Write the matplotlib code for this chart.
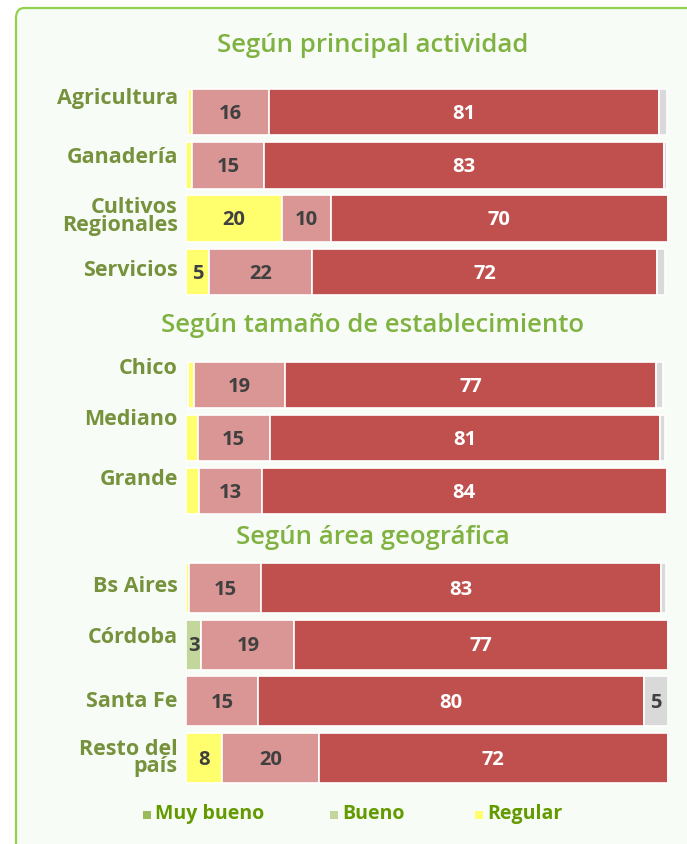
import matplotlib
matplotlib.use("Agg")
import matplotlib.pyplot as plt
from matplotlib.patches import FancyBboxPatch, Rectangle
import numpy as np

# ---------------- data ----------------
series = ["Muy bueno", "Bueno", "Regular", "Malo", "Muy malo", "Ns/Nc"]
colors = ["#9bbb59", "#c3d69b", "#ffff6e", "#da9694", "#c0504d", "#d9d9d9"]

g1_title = "Según principal actividad"
g1_cats = ["Agricultura", "Ganadería", "Cultivos\nRegionales", "Servicios"]
g1_vals = [
    [0, 0.5, 0.7, 16, 81, 1.5],
    [0, 0, 1.2, 15, 83, 0.6],
    [0, 0, 20, 10, 70, 0],
    [0, 0, 4.7, 21.5, 71.5, 1.6],
]

g2_title = "Según tamaño de establecimiento"
g2_cats = ["Chico", "Mediano", "Grande"]
g2_vals = [
    [0, 0.4, 1.2, 19, 77, 1.4],
    [0, 0, 2.4, 15, 81, 1.0],
    [0, 0, 2.7, 13, 84, 0],
]

g3_title = "Según área geográfica"
g3_cats = ["Bs Aires", "Córdoba", "Santa Fe", "Resto del\npaís"]
g3_vals = [
    [0, 0, 0.6, 15, 83, 1.0],
    [0, 3.2, 0, 19.3, 77.4, 0],
    [0, 0, 0, 15, 80, 5],
    [0, 0, 7.5, 20, 72.5, 0],
]

legend_items = ["Muy bueno", "Bueno", "Regular"]

# label vertical nudges (fraction of a row, upward)
g1_nudge = [0.26, 0.15, 0.04, 0.02]
g2_nudge = [0.32, 0.34, 0.21]
g3_nudge = [0.02, 0.12, 0.0, 0.0]

# ---------------- layout ----------------
W, H = 687, 844
fig = plt.figure(figsize=(W / 100, H / 100), dpi=100)
fig.patch.set_facecolor("white")

panel = FancyBboxPatch((16 / W, -0.05), 1.2, 1 - 8 / H + 0.05,
                       boxstyle="round,pad=0,rounding_size=0.012",
                       transform=fig.transFigure, facecolor="#f8fcf6",
                       edgecolor="#92d050", linewidth=1.6, zorder=-5)
fig.patches.append(panel)

x0_px, x1_px = 186, 668
label_color = "#76923c"
title_color = "#7fb241"
num_dark = "#404040"


def fy(px):
    return 1 - px / H


def draw_group(top_px, bottom_px, cats, vals, nudge):
    ax = fig.add_axes([x0_px / W, fy(bottom_px), (x1_px - x0_px) / W,
                       (bottom_px - top_px) / H])
    ax.set_facecolor("none")
    ax.set_zorder(2)
    n = len(cats)
    ax.set_xlim(0, 100)
    ax.set_ylim(n - 0.5, -0.5)
    ax.axis("off")
    arr = np.array(vals, dtype=float)
    y = np.arange(n)
    left = np.zeros(n)
    for j, s in enumerate(series):
        w = arr[:, j]
        ax.barh(y, w, left=left, height=0.88, color=colors[j],
                edgecolor="white", linewidth=1.2)
        for i in range(n):
            if w[i] >= 3:
                ax.text(left[i] + w[i] / 2, y[i] + 0.03, f"{w[i]:.0f}",
                        ha="center", va="center", fontsize=14.5,
                        fontweight="bold", family="Open Sans",
                        color="white" if s == "Muy malo" else num_dark)
        left += w
    for i, c in enumerate(cats):
        ax.text(-1.7, y[i] - nudge[i], c, ha="right", va="center",
                fontsize=15.5, fontweight="bold", family="Open Sans",
                color=label_color, linespacing=0.8, clip_on=False)
    return ax


def title(text, y_px):
    fig.text(373 / W, fy(y_px), text, ha="center", va="center",
             fontsize=18.5, family="Open Sans", fontweight="semibold",
             color=title_color)


title(g1_title, 46)
draw_group(85.3, 298.7, g1_cats, g1_vals, g1_nudge)
title(g2_title, 325)
draw_group(358.5, 517.5, g2_cats, g2_vals, g2_nudge)
title(g3_title, 538)
draw_group(559.7, 786.3, g3_cats, g3_vals, g3_nudge)

# legend
leg_x = [143, 330, 475]
for k, name in enumerate(legend_items):
    j = series.index(name)
    fig.patches.append(Rectangle((leg_x[k] / W, fy(819)), 8 / W, 8 / H,
                                 transform=fig.transFigure,
                                 facecolor=colors[j], edgecolor="none"))
    fig.text((leg_x[k] + 12) / W, fy(814), name, ha="left", va="center",
             fontsize=14, family="Open Sans", fontweight="bold",
             color="#639a00")

fig.savefig("out.png", dpi=100, facecolor="white")
